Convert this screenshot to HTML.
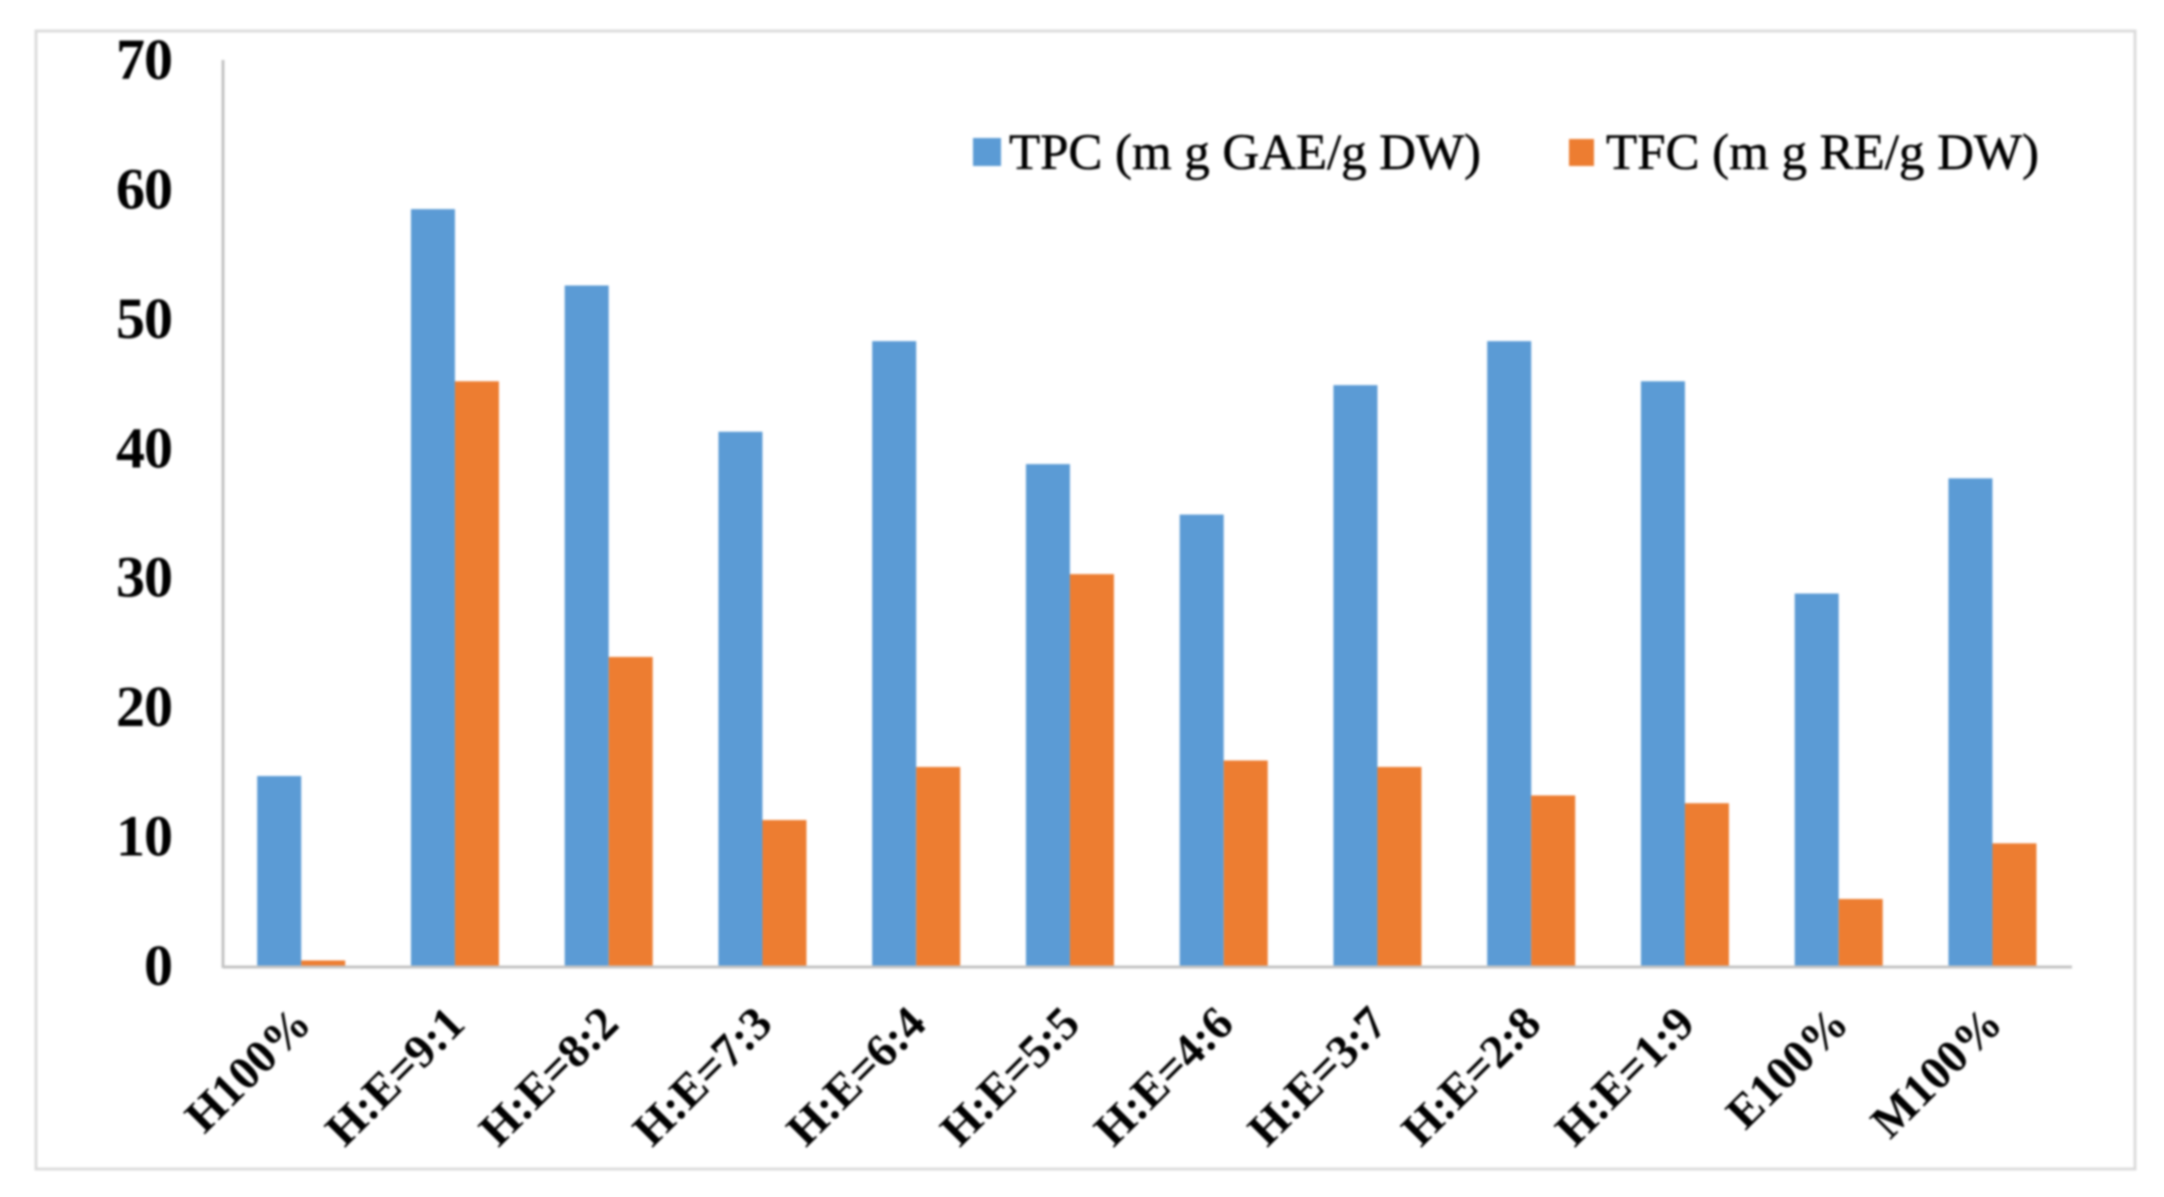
<!DOCTYPE html>
<html lang="en">
<head>
<meta charset="utf-8">
<title>TPC and TFC by solvent ratio</title>
<style>
  html, body { margin: 0; padding: 0; background: #fff; width: 2164px; height: 1197px; overflow: hidden; }
  svg { display: block; filter: blur(1.1px); }
  text { font-family: "Liberation Serif", serif; fill: #000; }
</style>
</head>
<body>
<svg id="chart" xmlns="http://www.w3.org/2000/svg" width="2164" height="1197" viewBox="0 0 2164 1197">
  <rect x="36" y="31" width="2099" height="1138" fill="#fff" stroke="#dcdcdc" stroke-width="3"/>
</svg>
<script>
const categories = ["H100%", "H:E=9:1", "H:E=8:2", "H:E=7:3", "H:E=6:4", "H:E=5:5", "H:E=4:6", "H:E=3:7", "H:E=2:8", "H:E=1:9", "E100%", "M100%"];
const tpcValues = [14.6, 58.4, 52.5, 41.2, 48.2, 38.7, 34.8, 44.8, 48.2, 45.1, 28.7, 37.6];
const tfcValues = [0.35, 45.1, 23.8, 11.2, 15.3, 30.2, 15.8, 15.3, 13.1, 12.5, 5.1, 9.4];
const yTicks = [0, 10, 20, 30, 40, 50, 60, 70];
const tpcName = "TPC (m g GAE/g DW)";
const tfcName = "TFC (m g RE/g DW)";

const NS = "http://www.w3.org/2000/svg";
const svg = document.getElementById("chart");
const yMax = 70;
const plotTop = 59, plotBottom = 965, axisLeft = 223, axisRight = 2072;
const firstCenter = 301.2, groupStep = 153.75, barWidth = 44;

function yScale(v) { return plotBottom - (v / yMax) * (plotBottom - plotTop); }
function xScale(i) { return firstCenter + i * groupStep; }
function make(tag, attrs, text) {
  const el = document.createElementNS(NS, tag);
  for (const k in attrs) el.setAttribute(k, attrs[k]);
  if (text !== undefined) el.textContent = text;
  svg.appendChild(el);
  return el;
}

// bars
categories.forEach(function (cat, i) {
  const blue = make("rect", { x: xScale(i) - barWidth, y: yScale(tpcValues[i]), width: barWidth, height: plotBottom + 1 - yScale(tpcValues[i]), fill: "#5b9bd5" });
  
  
  const orange = make("rect", { x: xScale(i), y: yScale(tfcValues[i]), width: barWidth, height: plotBottom + 1 - yScale(tfcValues[i]), fill: "#ed7d31" });
  
  
});

// axes
const yAxis = make("line", { x1: axisLeft, y1: plotTop + 1, x2: axisLeft, y2: plotBottom + 3, stroke: "#c4c4c4", "stroke-width": 3 });


const xAxis = make("line", { x1: axisLeft, y1: plotBottom + 2, x2: axisRight, y2: plotBottom + 2, stroke: "#c4c4c4", "stroke-width": 3 });



// y tick labels
yTicks.forEach(function (t) {
  const label = make("text", { x: 172, y: yScale(t) + 20, "text-anchor": "end", "font-size": 58, "font-weight": "bold", "letter-spacing": "-1" }, String(t));
  
  
});

// x category labels
categories.forEach(function (cat, i) {
  const lx = xScale(i) + 12, ly = 1026;
  const label = make("text", { x: lx, y: ly, "text-anchor": "end", "font-size": 47, "font-weight": "bold", transform: "rotate(-45 " + lx + " " + ly + ")" }, cat);
  
  
});

// legend
const tpcSwatch = make("rect", { x: 973, y: 138, width: 28, height: 28, fill: "#5b9bd5" });


const tpcLabel = make("text", { x: 1009, y: 169, "font-size": 51, stroke: "#000", "stroke-width": 0.5, textLength: 472, lengthAdjust: "spacing" }, tpcName);


const tfcSwatch = make("rect", { x: 1569, y: 139, width: 25, height: 27, fill: "#ed7d31" });


const tfcLabel = make("text", { x: 1606, y: 169, "font-size": 51, stroke: "#000", "stroke-width": 0.5, textLength: 433, lengthAdjust: "spacing" }, tfcName);


</script>
</body>
</html>
